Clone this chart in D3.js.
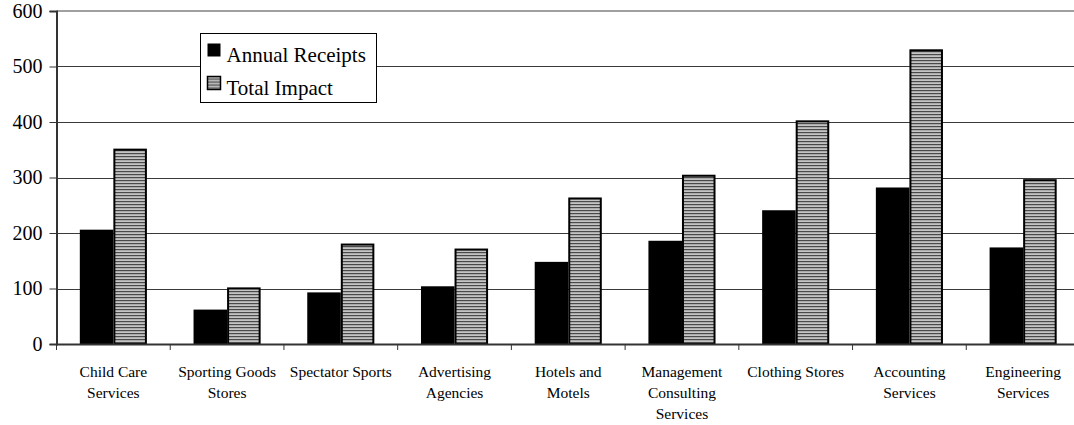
<!DOCTYPE html>
<html>
<head>
<meta charset="utf-8">
<script src="https://cdn.jsdelivr.net/npm/d3@7"></script>
<style>
  html, body { margin: 0; padding: 0; background: #fff; }
  svg { display: block; }
  svg text { font-family: "Liberation Serif", "Times New Roman", serif; }
</style>
</head>
<body>
<svg id="chart" width="1074" height="425"></svg>
<script>
// Industry categories (each entry is the list of label lines)
const categories = [
  ["Child Care", "Services"],
  ["Sporting Goods", "Stores"],
  ["Spectator Sports"],
  ["Advertising", "Agencies"],
  ["Hotels and", "Motels"],
  ["Management", "Consulting", "Services"],
  ["Clothing Stores"],
  ["Accounting", "Services"],
  ["Engineering", "Services"]
];
const seriesNames = ["Annual Receipts", "Total Impact"];
const annualReceipts = [206, 62, 93, 104, 148, 186, 241, 282, 174];
const totalImpact = [352, 102, 181, 172, 264, 305, 403, 531, 297];
const yTicks = [0, 100, 200, 300, 400, 500, 600];

const svg = d3.select("#chart");
const W = 1074, H = 425;
const plotLeft = 56.5, plotRight = 1080, plotTop = 11, plotBottom = 344;

// horizontal stripe fill for the second series
const defs = svg.append("defs");
const pat = defs.append("pattern")
  .attr("id", "stripes").attr("patternUnits", "userSpaceOnUse")
  .attr("width", 6).attr("height", 3);
pat.append("rect").attr("width", 6).attr("height", 3).attr("fill", "#c4c4c4");
pat.append("rect").attr("width", 6).attr("height", 1.2).attr("fill", "#4a4a4a");

const clip = defs.append("clipPath").attr("id", "frame");
clip.append("rect").attr("x", 0).attr("y", 0).attr("width", W).attr("height", H);

const keys = categories.map((c, i) => i);
const x = d3.scaleBand().domain(keys).range([plotLeft, plotRight])
  .paddingInner(0.41).paddingOuter(0.205);
const xs = d3.scaleBand().domain(seriesNames).range([0, x.bandwidth()]).padding(0);
const y = d3.scaleLinear().domain([0, 600]).range([plotBottom, plotTop]);
const step = x.step();

const g = svg.append("g").attr("clip-path", "url(#frame)");

// gridlines
g.append("g").selectAll("line")
  .data(yTicks.filter(t => t > 0 && t < 600))
  .join("line")
  .attr("x1", plotLeft).attr("x2", plotRight)
  .attr("y1", d => Math.round(y(d)) + 0.5).attr("y2", d => Math.round(y(d)) + 0.5)
  .attr("stroke", "#3a3a3a").attr("stroke-width", 1.2);

// top frame line
g.append("line")
  .attr("x1", plotLeft).attr("x2", plotRight)
  .attr("y1", y(600)).attr("y2", y(600))
  .attr("stroke", "#a0a0a0").attr("stroke-width", 2);

// bars
const rows = keys.map(i => ({ i, vals: [annualReceipts[i], totalImpact[i]] }));
const groups = g.append("g").selectAll("g").data(rows).join("g")
  .attr("transform", d => `translate(${x(d.i)},0)`);

groups.append("rect")
  .attr("x", xs(seriesNames[0]))
  .attr("y", d => y(d.vals[0]))
  .attr("width", xs.bandwidth())
  .attr("height", d => y(0) - y(d.vals[0]))
  .attr("fill", "#000");

groups.append("rect")
  .attr("x", xs(seriesNames[1]) + 1)
  .attr("y", d => y(d.vals[1]) + 1)
  .attr("width", xs.bandwidth() - 2)
  .attr("height", d => y(0) - y(d.vals[1]) - 1)
  .attr("fill", "url(#stripes)")
  .attr("stroke", "#000").attr("stroke-width", 2);

// x axis line and category ticks
g.append("line")
  .attr("x1", plotLeft).attr("x2", plotRight)
  .attr("y1", plotBottom + 0.5).attr("y2", plotBottom + 0.5)
  .attr("stroke", "#333").attr("stroke-width", 2);
g.append("g").selectAll("line")
  .data(d3.range(categories.length + 1))
  .join("line")
  .attr("x1", i => plotLeft + i * step).attr("x2", i => plotLeft + i * step)
  .attr("y1", plotBottom).attr("y2", plotBottom + 6)
  .attr("stroke", "#333").attr("stroke-width", 1);

// y axis
const yAxis = svg.append("g")
  .attr("transform", `translate(${plotLeft},0)`)
  .call(d3.axisLeft(y).tickValues(yTicks).tickSize(7).tickPadding(7).tickFormat(d3.format("d")));
yAxis.attr("font-family", null);
yAxis.select(".domain").attr("stroke", "#333").attr("stroke-width", 2);
yAxis.selectAll(".tick line").attr("stroke", "#333").attr("stroke-width", 1);
yAxis.selectAll(".tick text")
  .attr("font-size", 20).attr("fill", "#000");

// category labels
const labels = svg.append("g").selectAll("text").data(rows).join("text")
  .attr("text-anchor", "middle")
  .attr("font-size", 15.5)
  .attr("fill", "#000")
  .attr("x", d => x(d.i) + x.bandwidth() / 2)
  .attr("y", 377);
labels.selectAll("tspan")
  .data(d => categories[d.i])
  .join("tspan")
  .attr("x", function() { return d3.select(this.parentNode).attr("x"); })
  .attr("dy", (d, j) => j === 0 ? 0 : 21)
  .text(d => d);

// legend
const legend = svg.append("g").attr("transform", "translate(200.5,33.5)");
legend.append("rect").attr("width", 176).attr("height", 69)
  .attr("fill", "#fff").attr("stroke", "#000").attr("stroke-width", 1);
const items = legend.selectAll("g.item").data(seriesNames).join("g")
  .attr("class", "item")
  .attr("transform", (d, i) => `translate(0,${i * 33})`);
items.append("rect")
  .attr("x", 7).attr("y", 10).attr("width", 13).attr("height", 13)
  .attr("fill", (d, i) => i === 0 ? "#000" : "url(#stripes)")
  .attr("stroke", "#000").attr("stroke-width", (d, i) => i === 0 ? 0 : 1.5);
items.append("text")
  .attr("x", 26).attr("y", 28)
  .attr("font-size", 21)
  .attr("fill", "#000")
  .text(d => d);
</script>
</body>
</html>
